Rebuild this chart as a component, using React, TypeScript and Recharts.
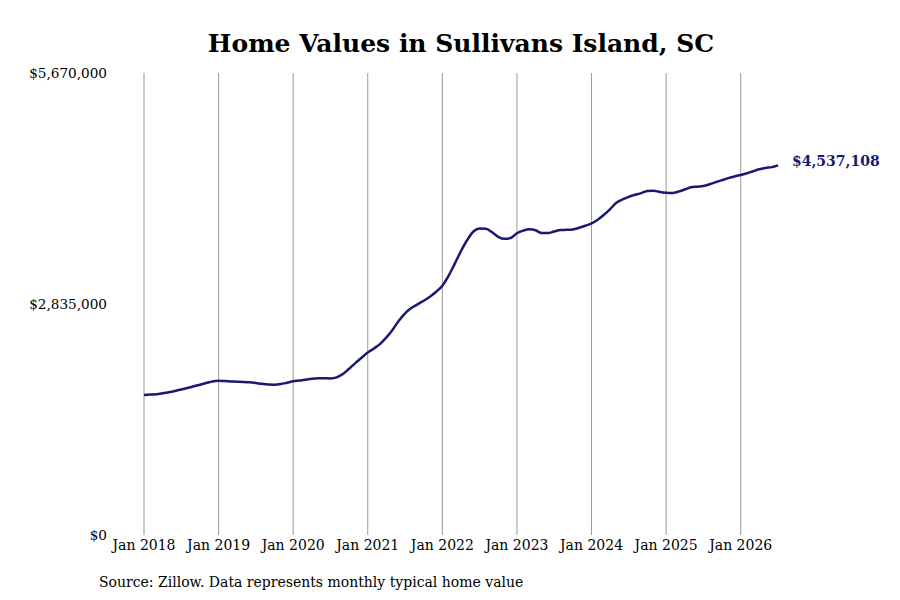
import { LineChart, Line, XAxis, YAxis, ReferenceLine } from 'recharts'

// monthly typical home value, Jan 2018 .. Jul 2026 (thousands of dollars)
const values2018 = [1718, 1724, 1728, 1739, 1752, 1768, 1786, 1805, 1825, 1845, 1865, 1885]
const values2019 = [1892, 1889, 1885, 1882, 1879, 1874, 1865, 1855, 1847, 1845, 1852, 1868]
const values2020 = [1886, 1895, 1905, 1918, 1925, 1925, 1922, 1935, 1975, 2040, 2110, 2175]
const values2021 = [2240, 2290, 2345, 2425, 2520, 2630, 2720, 2785, 2830, 2875, 2925, 2985]
const values2022 = [3060, 3180, 3330, 3485, 3620, 3725, 3762, 3760, 3715, 3660, 3635, 3645]
const values2023 = [3703, 3735, 3752, 3740, 3705, 3705, 3725, 3743, 3745, 3750, 3770, 3795]
const values2024 = [3825, 3870, 3930, 4000, 4078, 4120, 4150, 4175, 4196, 4222, 4226, 4210]
const values2025 = [4201, 4198, 4215, 4240, 4267, 4275, 4283, 4305, 4330, 4355, 4380, 4400]
const values2026 = [4418, 4440, 4465, 4488, 4505, 4515, 4537.108]

const yearLabels = ['Jan 2018', 'Jan 2019', 'Jan 2020', 'Jan 2021', 'Jan 2022', 'Jan 2023', 'Jan 2024', 'Jan 2025', 'Jan 2026']
const yTicks = [0, 2835000, 5670000]

const allValues = [
  ...values2018, ...values2019, ...values2020, ...values2021, ...values2022,
  ...values2023, ...values2024, ...values2025, ...values2026,
]

const data = allValues.map((v, i) => ({ month: i, value: Math.round(v * 1000) }))
const lastIndex = data.length - 1
const xTicks = yearLabels.map((_, i) => i * 12)

const FONT = '"DejaVu Serif", serif'
const NAVY = '#191970'

const money = (v: number) => '$' + v.toLocaleString('en-US')

export default function App() {
  return (
    <div style={{ position: 'fixed', top: 0, left: 0, width: 900, height: 600, background: '#fff', fontFamily: FONT }}>
      <div
        style={{
          position: 'absolute', top: 27, left: 0, width: 922, textAlign: 'center',
          fontSize: 25, fontWeight: 'bold', color: '#000', lineHeight: '34px',
        }}
      >
        Home Values in Sullivans Island, SC
      </div>

      <LineChart
        width={900}
        height={600}
        data={data}
        margin={{ top: 73, right: 122, bottom: 35, left: 84 }}
      >
        {/* vertical gridlines only at each January */}
        {xTicks.map((t) => (
          <ReferenceLine key={t} x={t} stroke="#999" strokeWidth={1} />
        ))}
        <XAxis
          dataKey="month"
          type="number"
          domain={[0, lastIndex]}
          ticks={xTicks}
          axisLine={false}
          tickLine={false}
          height={30}
          tick={({ x, payload }: any) => (
            <text x={x} y={550} textAnchor="middle" fontSize={14} fontFamily={FONT} fill="#000">
              {yearLabels[payload.value / 12]}
            </text>
          )}
        />
        <YAxis
          type="number"
          domain={[0, 5670000]}
          ticks={yTicks}
          axisLine={false}
          tickLine={false}
          width={60}
          tick={({ y, payload }: any) => (
            <text x={107} y={y} dy={5} textAnchor="end" fontSize={13.6} fontFamily={FONT} fill="#000">
              {money(payload.value)}
            </text>
          )}
        />
        <Line
          type="monotone"
          dataKey="value"
          stroke={NAVY}
          strokeWidth={2.5}
          dot={false}
          isAnimationActive={false}
          label={({ x, y, index }: any) =>
            index === lastIndex ? (
              <text x={x + 14} y={y} dy={1} textAnchor="start" fontSize={14} fontWeight="bold" fontFamily={FONT} fill={NAVY}>
                {money(data[lastIndex].value)}
              </text>
            ) : null
          }
        />
      </LineChart>

      <div style={{ position: 'absolute', top: 572, left: 99, fontSize: 14, lineHeight: '20px', color: '#000' }}>
        Source: Zillow. Data represents monthly typical home value
      </div>
    </div>
  )
}
